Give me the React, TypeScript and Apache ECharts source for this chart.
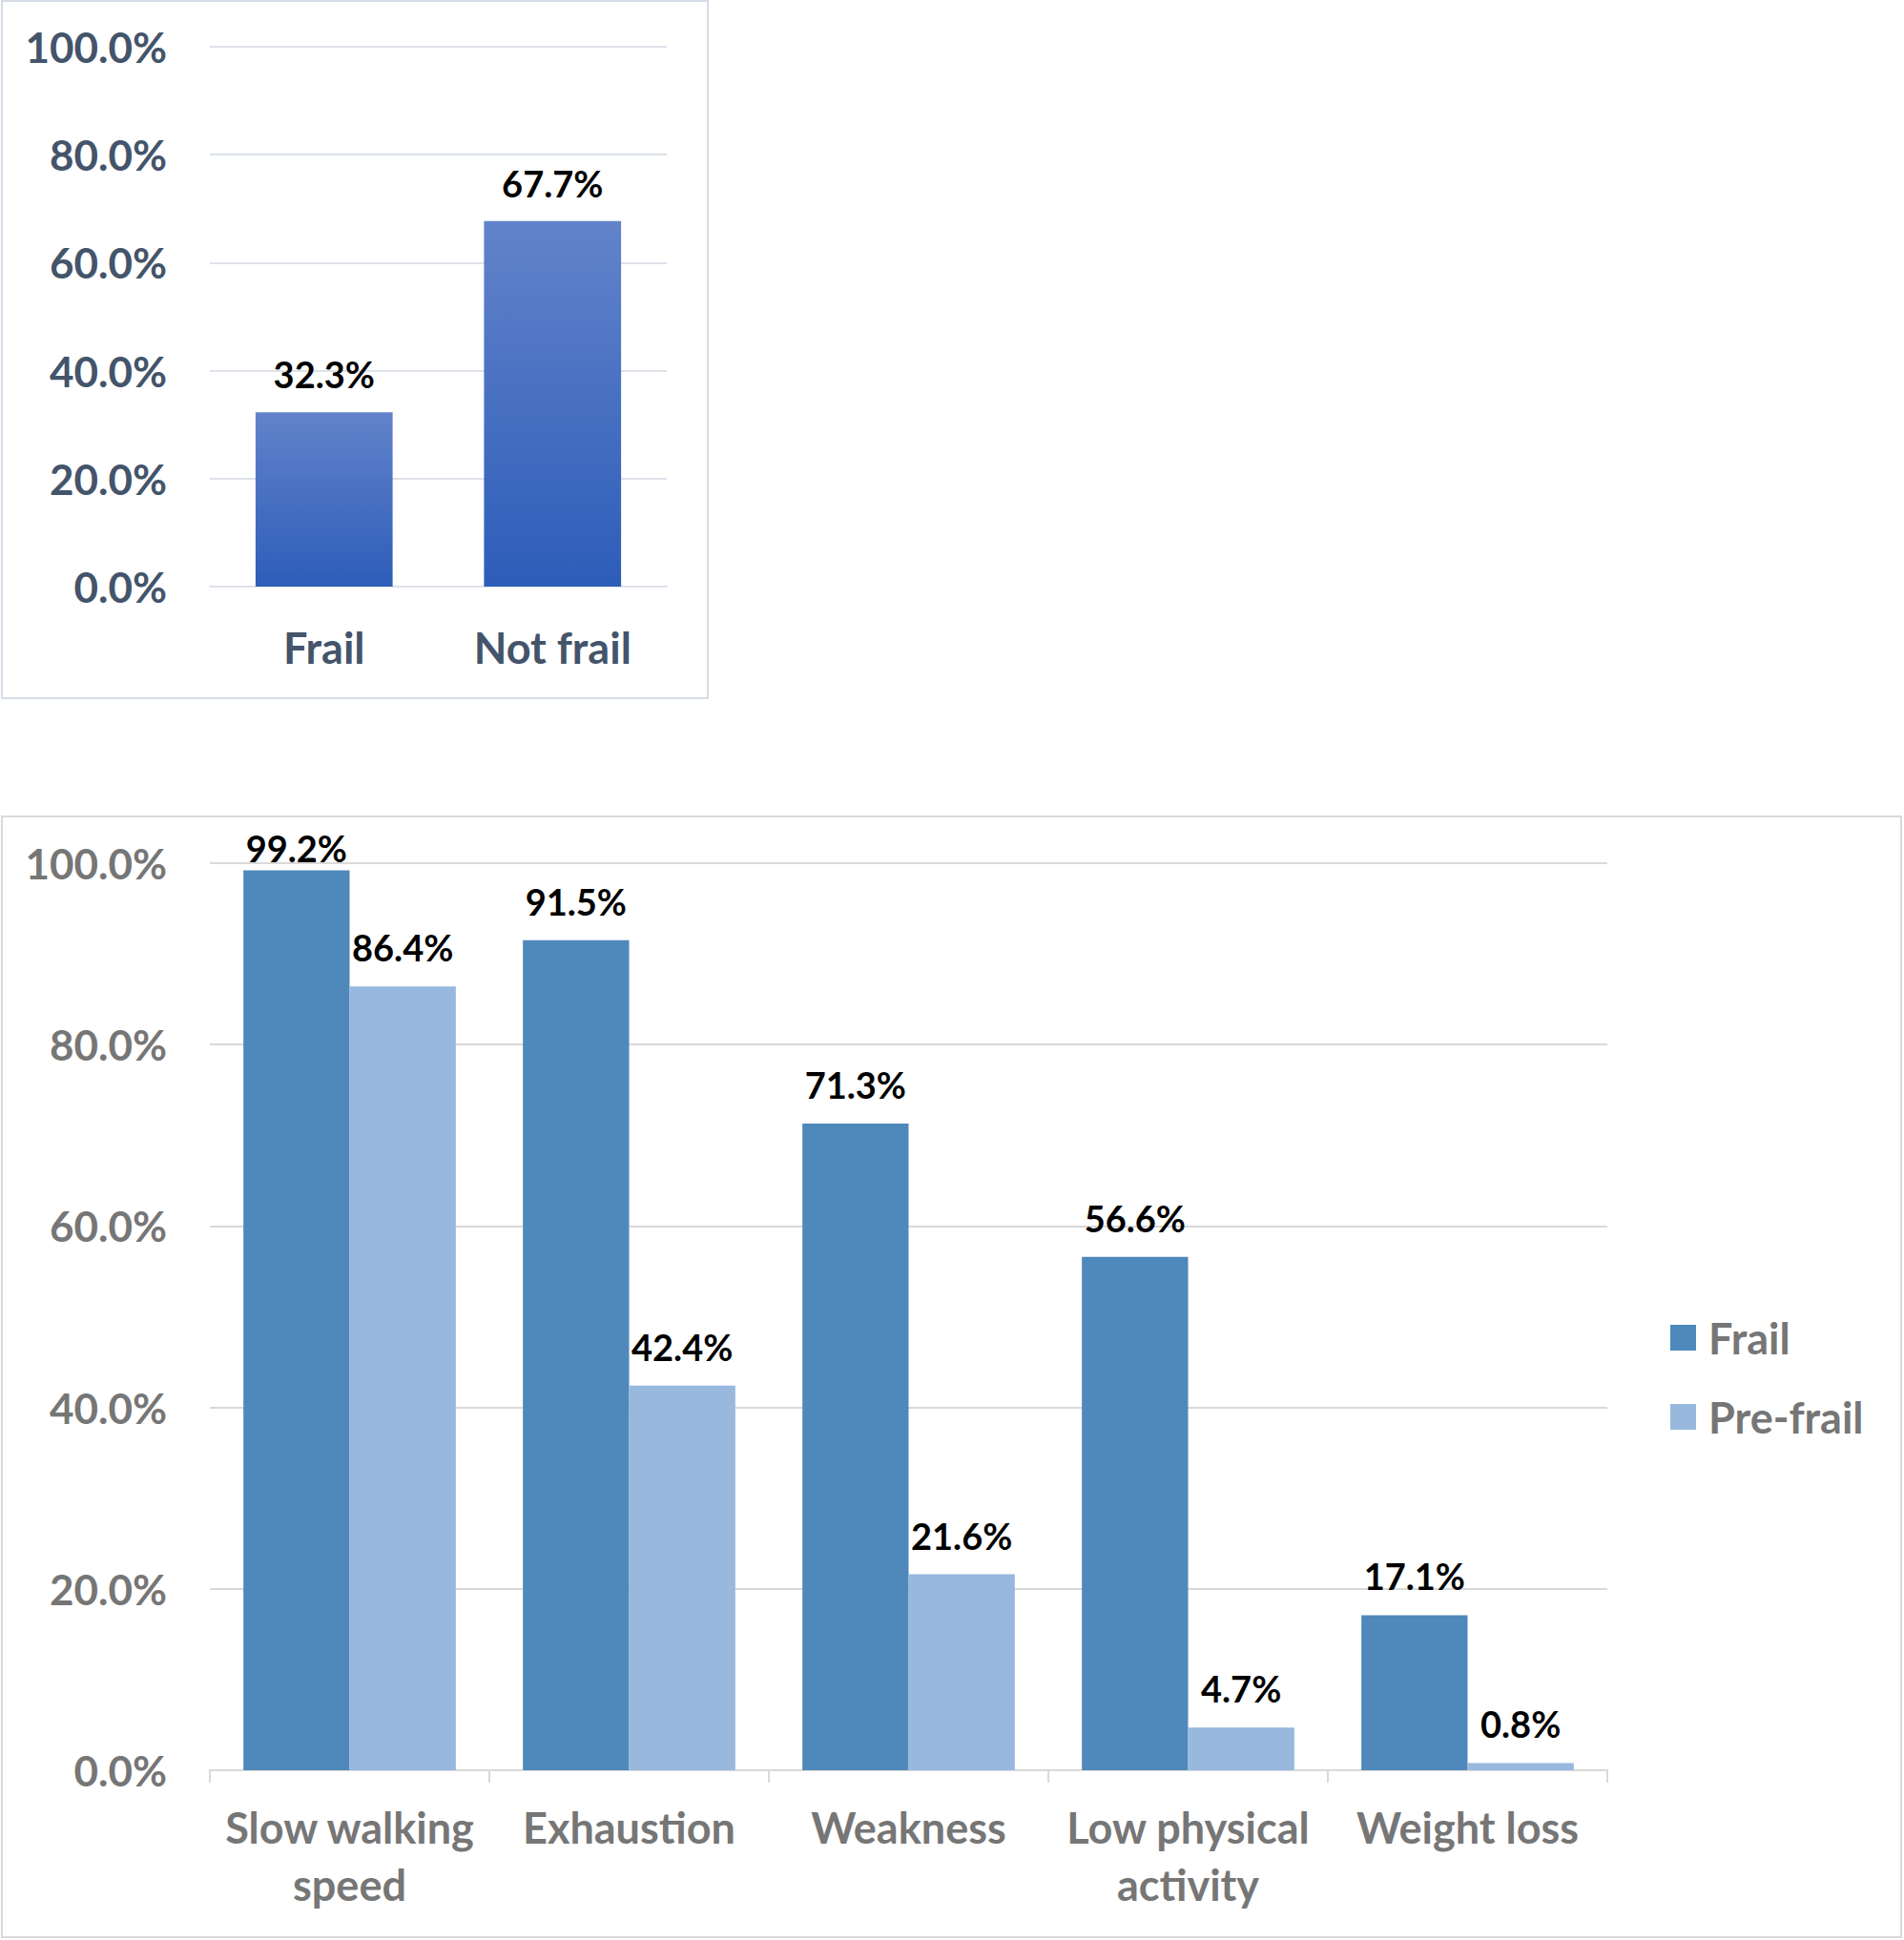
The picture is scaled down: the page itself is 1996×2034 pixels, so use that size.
import React, { useEffect, useRef } from "react";
import * as echarts from "echarts";

const topCategories = ["Frail", "Not frail"];
const topValues = [32.3, 67.7];

const bottomCategories = ["Slow walking\nspeed", "Exhaustion", "Weakness", "Low physical\nactivity", "Weight loss"];
const frailValues = [99.2, 91.5, 71.3, 56.6, 17.1];
const preFrailValues = [86.4, 42.4, 21.6, 4.7, 0.8];

const FONT = "Lato";
const pct = (v: number) => v.toFixed(1) + "%";

export default function App() {
  const ref = useRef<HTMLDivElement>(null);
  useEffect(() => {
    if (!ref.current) return;
    const chart = echarts.init(ref.current, null, { renderer: "svg" });
    const grad = new echarts.graphic.LinearGradient(0, 0, 0, 1, [
      { offset: 0, color: "#6283CA" },
      { offset: 1, color: "#2D5DB9" },
    ]);
    const dataLabel = (distance: number) => ({
      show: true,
      position: "top",
      distance,
      formatter: (p: any) => pct(p.value),
      fontFamily: FONT,
      fontWeight: "bold",
      fontSize: 38,
      color: "#000",
    });
    // labels that would overflow the top of the plot are pulled down, as in the source
    const withFit = (vals: number[]) =>
      vals.map((v) => (v > 97 ? { value: v, label: { distance: 5 } } : v));
    chart.setOption({
      animation: false,
      backgroundColor: "#ffffff",
      graphic: [
        { type: "rect", shape: { x: 2, y: 1, width: 740, height: 731 }, style: { fill: "none", stroke: "#d6dce5", lineWidth: 2 }, z: -1 },
        { type: "rect", shape: { x: 2, y: 856, width: 1991, height: 1175 }, style: { fill: "none", stroke: "#d9d9d9", lineWidth: 2 }, z: -1 },
      ],
      grid: [
        { left: 220, right: 1297, top: 49, height: 566 },
        { left: 220, right: 311, top: 905, bottom: 178 },
      ],
      legend: {
        show: true,
        orient: "vertical",
        left: 1746,
        top: 1375,
        itemWidth: 27,
        itemHeight: 27,
        itemGap: 38,
        icon: "rect",
        data: ["Frail", "Pre-frail"],
        textStyle: { fontFamily: FONT, fontWeight: "bold", fontSize: 45, color: "#767676", lineHeight: 45, padding: [0, 0, 0, 8] },
      },
      xAxis: [
        {
          type: "category",
          gridIndex: 0,
          data: topCategories,
          axisLine: { show: true, lineStyle: { color: "#dde2ea", width: 2 } },
          axisTick: { show: false },
          axisLabel: { margin: 41, fontFamily: FONT, fontWeight: "bold", fontSize: 45, color: "#44546A" },
        },
        {
          type: "category",
          gridIndex: 1,
          data: bottomCategories,
          axisLine: { show: true, lineStyle: { color: "#d9d9d9", width: 2 } },
          axisTick: { show: true, length: 13, lineStyle: { color: "#d9d9d9", width: 2 } },
          axisLabel: { interval: 0, margin: 30, fontFamily: FONT, fontWeight: "bold", fontSize: 45, lineHeight: 60, color: "#767676" },
        },
      ],
      yAxis: [
        {
          type: "value",
          gridIndex: 0,
          min: 0,
          max: 100,
          interval: 20,
          axisLine: { show: false },
          axisTick: { show: false },
          splitLine: { lineStyle: { color: "#dde2ea", width: 2 } },
          axisLabel: { margin: 45, formatter: (v: number) => pct(v), fontFamily: FONT, fontWeight: "bold", fontSize: 44, color: "#44546A" },
        },
        {
          type: "value",
          gridIndex: 1,
          min: 0,
          max: 100,
          interval: 20,
          axisLine: { show: false },
          axisTick: { show: false },
          splitLine: { lineStyle: { color: "#d9d9d9", width: 2 } },
          axisLabel: { margin: 45, formatter: (v: number) => pct(v), fontFamily: FONT, fontWeight: "bold", fontSize: 44, color: "#767676" },
        },
      ],
      series: [
        {
          type: "bar",
          xAxisIndex: 0,
          yAxisIndex: 0,
          data: topValues,
          barCategoryGap: "40%",
          itemStyle: { color: grad },
          label: dataLabel(21),
        },
        {
          name: "Frail",
          type: "bar",
          xAxisIndex: 1,
          yAxisIndex: 1,
          data: withFit(frailValues),
          barGap: "0%",
          barCategoryGap: "24%",
          itemStyle: { color: "#4F88BB" },
          label: dataLabel(22),
        },
        {
          name: "Pre-frail",
          type: "bar",
          xAxisIndex: 1,
          yAxisIndex: 1,
          data: withFit(preFrailValues),
          barGap: "0%",
          barCategoryGap: "24%",
          itemStyle: { color: "#98B8DE" },
          label: dataLabel(22),
        },
      ],
    });
    return () => chart.dispose();
  }, []);
  return <div ref={ref} style={{ position: "absolute", left: 0, top: 0, width: 1996, height: 2034 }} />;
}
